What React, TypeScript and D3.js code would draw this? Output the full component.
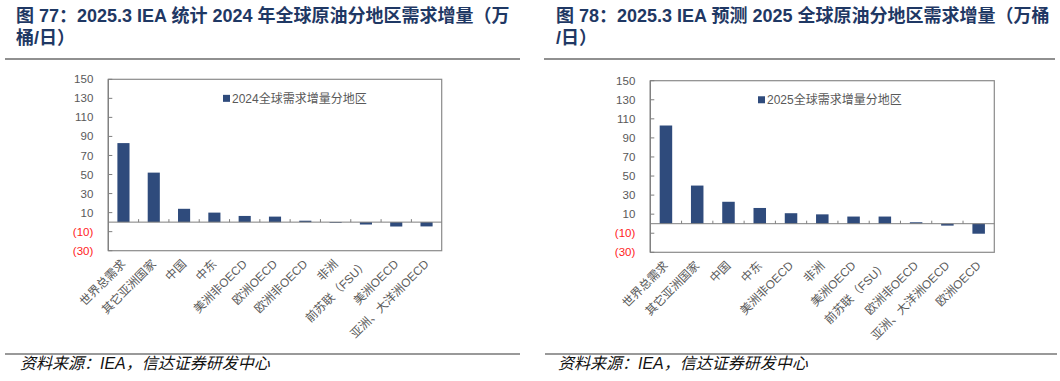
import React from "react";
import * as d3 from "d3";

const categories2024 = ["世界总需求", "其它亚洲国家", "中国", "中东", "美洲非OECD", "欧洲OECD", "欧洲非OECD", "非洲", "前苏联（FSU）", "美洲OECD", "亚洲、大洋洲OECD"];
const values2024 = [83, 52, 14, 10, 6.5, 5.8, 1.5, -0.8, -2.5, -4.6, -4.5];
const categories2025 = ["世界总需求", "其它亚洲国家", "中国", "中东", "美洲非OECD", "非洲", "美洲OECD", "前苏联（FSU）", "欧洲非OECD", "亚洲、大洋洲OECD", "欧洲OECD"];
const values2025 = [103, 40, 23, 16.5, 11, 9.8, 7.5, 7.5, 1.5, -2, -10.5];
const yTicks = [-30, -10, 10, 30, 50, 70, 90, 110, 130, 150];
const legend2024 = "2024全球需求增量分地区";
const legend2025 = "2025全球需求增量分地区";
const title77 = ["图 77：2025.3 IEA 统计 2024 年全球原油分地区需求增量（万", "桶/日）"];
const title78 = ["图 78：2025.3 IEA 预测 2025 全球原油分地区需求增量（万桶", "/日）"];
const source = "资料来源：IEA，信达证券研发中心";

const BAR = "#2F4B7C";
const FONT = "'Liberation Sans', Arial, 'Noto Sans CJK SC', sans-serif";
const CJK = "'Liberation Sans', 'Noto Sans CJK SC', sans-serif";

type PanelProps = {
  cats: string[];
  vals: number[];
  legend: string;
  left: number;
  right: number;
  top: number;
  bottom: number;
  legendX: number;
};

function Panel({ cats, vals, legend, left, right, top, bottom, legendX }: PanelProps) {
  const x = d3.scaleBand<string>().domain(cats).range([left, right]).paddingInner(0).paddingOuter(0);
  const y = d3.scaleLinear().domain([-30, 150]).range([bottom, top]);
  const bw = x.bandwidth() * 0.4;
  const y0 = y(0);
  return (
    <g>
      <rect x={left} y={top} width={right - left} height={bottom - top} fill="none" stroke="#8a8a8a" strokeWidth={1.2} />
      {yTicks.map((t) => (
        <g key={t}>
          <line x1={left} x2={left + 4} y1={y(t)} y2={y(t)} stroke="#7f7f7f" strokeWidth={1} />
          <text x={left - 15} y={y(t)} dy="0.35em" textAnchor="end" fontSize={11.5} fontFamily={FONT} fill={t < 0 ? "#FF2222" : "#595959"}>
            {t < 0 ? `(${Math.abs(t)})` : t}
          </text>
        </g>
      ))}
      {cats.map((c, i) => {
        const v = vals[i];
        const cx = (x(c) as number) + x.bandwidth() / 2;
        return (
          <rect key={c} x={cx - bw / 2} y={Math.min(y(v), y0)} width={bw} height={Math.abs(y(v) - y0)} fill={BAR} />
        );
      })}
      <line x1={left} x2={right} y1={y0} y2={y0} stroke="#7f7f7f" strokeWidth={1} />
      {cats.slice(1).map((c) => {
        const xx = x(c) as number;
        return <line key={"t" + c} x1={xx} x2={xx} y1={y0} y2={y0 - 3} stroke="#7f7f7f" strokeWidth={1} />;
      })}
      <line x1={left} x2={left} y1={top} y2={bottom} stroke="#7f7f7f" strokeWidth={1.2} />
      {cats.map((c) => {
        const cx = (x(c) as number) + x.bandwidth() / 2;
        const ax = cx + 3;
        const ay = bottom + 14;
        return (
          <text key={"l" + c} x={ax} y={ay} transform={`rotate(-45 ${ax} ${ay})`} textAnchor="end" fontSize={11.8} fontFamily={CJK} fill="#595959">
            {c}
          </text>
        );
      })}
      <rect x={legendX} y={y(130) - 3.5} width={7} height={7} fill={BAR} />
      <text x={legendX + 9} y={y(130)} dy="0.35em" fontSize={12} fontFamily={CJK} fill="#595959">
        {legend}
      </text>
    </g>
  );
}

export default function App() {
  return (
    <div style={{ position: "absolute", left: 0, top: 0 }}>
      <svg width={1060} height={381} style={{ display: "block", background: "#fff" }}>
        <g fontFamily={CJK} fontWeight="bold" fontSize={18} fill="#1F3864">
          <text x={16} y={22}>{title77[0]}</text>
          <text x={16} y={44}>{title77[1]}</text>
          <text x={556} y={22}>{title78[0]}</text>
          <text x={556} y={44}>{title78[1]}</text>
        </g>
        <line x1={5} x2={520} y1={59} y2={59} stroke="#222" strokeWidth={1.2} />
        <line x1={544} x2={1055} y1={59} y2={59} stroke="#222" strokeWidth={1.2} />
        <Panel cats={categories2024} vals={values2024} legend={legend2024} left={108.3} right={441.7} top={79.3} bottom={250.7} legendX={223} />
        <Panel cats={categories2025} vals={values2025} legend={legend2025} left={650.3} right={994.3} top={80.7} bottom={252.3} legendX={758} />
        <line x1={5} x2={520} y1={354} y2={354} stroke="#777" strokeWidth={1.5} />
        <line x1={545} x2={1057} y1={354} y2={354} stroke="#777" strokeWidth={1.5} />
        <g fontFamily={CJK} fontStyle="italic" fontSize={16} fill="#111">
          <text x={20} y={369}>{source}</text>
          <text x={558} y={369}>{source}</text>
        </g>
      </svg>
    </div>
  );
}
